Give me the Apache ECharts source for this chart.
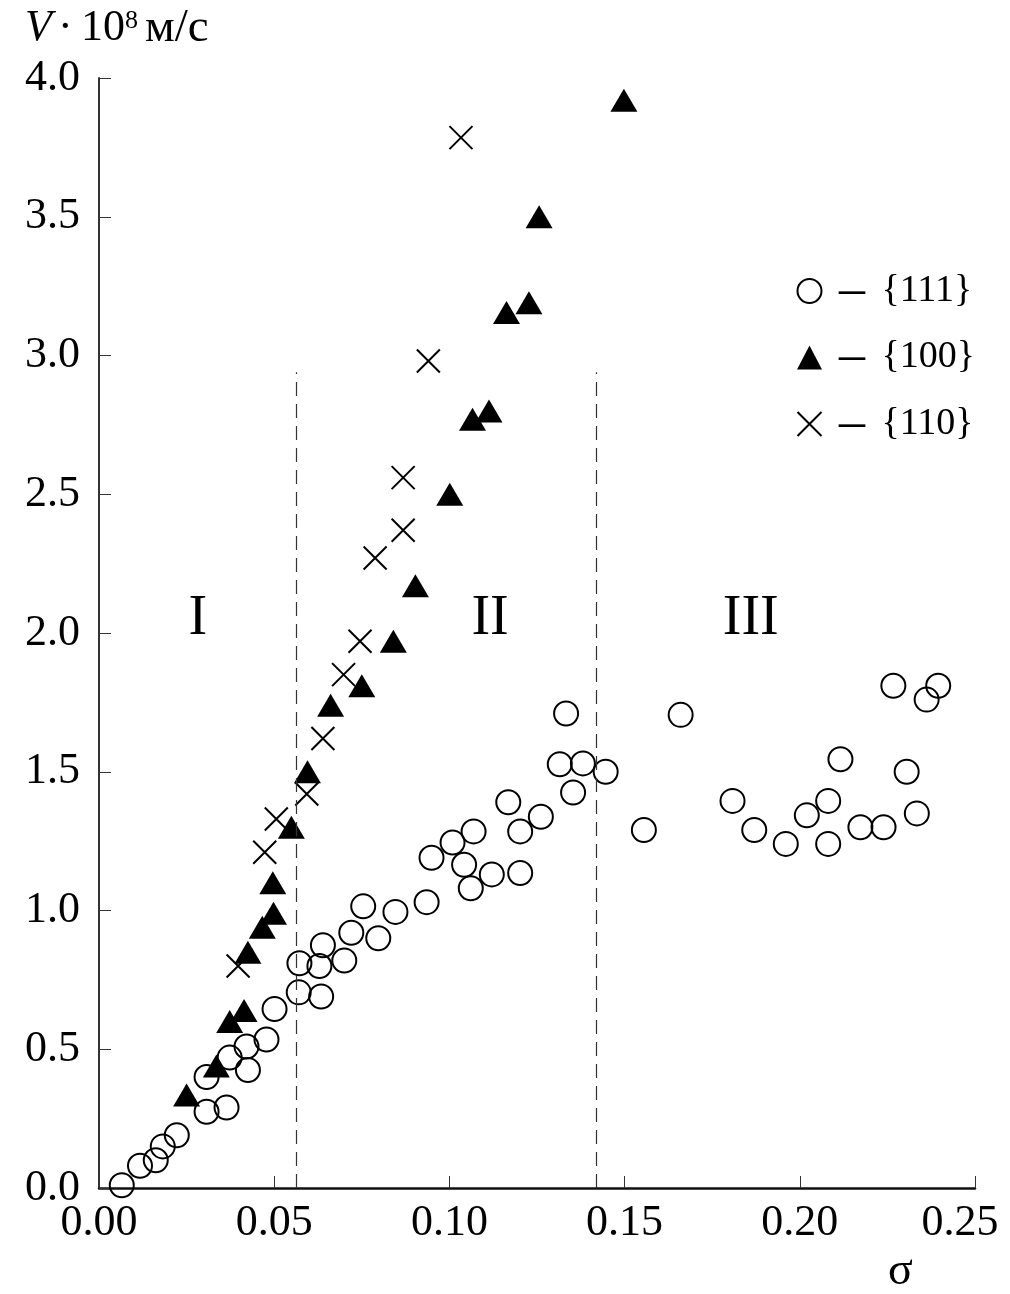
<!DOCTYPE html>
<html>
<head>
<meta charset="utf-8">
<script src="https://cdn.jsdelivr.net/npm/echarts@6/dist/echarts.min.js"></script>
<style>
html,body{margin:0;padding:0;background:#fff;overflow:hidden;}
#c{width:1010px;height:1294px;}
</style>
</head>
<body>
<div id="c"></div>
<script>
// ---- data ----
const sigma111 = [0.0065,0.0117,0.0162,0.0182,0.0222,0.0307,0.0307,0.0364,0.0373,0.0421,0.0425,0.0478,0.0501,0.0570,0.0572,0.0629,0.0634,0.0639,0.0700,0.0720,0.0754,0.0797,0.0846,0.0935,0.0949,0.1009,0.1042,0.1069,0.1061,0.1121,0.1168,0.1202,0.1202,0.1261,0.1315,0.1333,0.1353,0.1381,0.1446,0.1555,0.1660,0.1808,0.1870,0.1960,0.2020,0.2081,0.2081,0.2116,0.2173,0.2239,0.2267,0.2305,0.2334,0.2362,0.2395];
const v111     = [0.01,0.08,0.10,0.15,0.19,0.40,0.275,0.29,0.47,0.51,0.425,0.535,0.645,0.705,0.81,0.80,0.69,0.875,0.82,0.92,1.015,0.90,0.995,1.03,1.19,1.245,1.165,1.285,1.08,1.13,1.39,1.285,1.135,1.338,1.527,1.71,1.425,1.53,1.50,1.29,1.705,1.395,1.29,1.24,1.343,1.395,1.24,1.545,1.30,1.30,1.81,1.50,1.35,1.76,1.81];

const sigma100 = [0.0250,0.0335,0.0373,0.0414,0.0425,0.0466,0.0498,0.0496,0.0549,0.0595,0.0661,0.0750,0.0840,0.0903,0.1001,0.1066,0.1113,0.1163,0.1227,0.1256,0.1498];
const v100     = [0.335,0.44,0.60,0.64,0.85,0.94,0.99,1.10,1.30,1.50,1.74,1.81,1.97,2.17,2.50,2.77,2.80,3.155,3.19,3.50,3.92];

const sigma110 = [0.0397,0.0473,0.0506,0.0593,0.0639,0.0698,0.0745,0.0788,0.0868,0.0868,0.0940,0.1033];
const v110     = [0.80,1.21,1.33,1.42,1.62,1.85,1.97,2.27,2.37,2.56,2.98,3.785];

const boundarySigma = [0.0563, 0.1418];
const boundaryTop = 2.94;

const regionNames = ['I','II','III'];
const regionSigma = [0.0282, 0.1116, 0.1860];
const regionV = [2.05, 2.05, 2.05];

const seriesNames = ['{111}','{100}','{110}'];
const xTicks = [0, 0.25, 0.05];
const yTicks = [0, 4, 0.5];

// ---- build ----
const zip = (a,b) => a.map((x,i)=>[x,b[i]]);
const FONT = 'Liberation Serif';
const chart = echarts.init(document.getElementById('c'), null, {renderer:'canvas'});

const option = {
  animation:false,
  backgroundColor:'#fff',
  grid:{left:99, right:35, top:78, bottom:106, containLabel:false, outerBoundsMode:'none'},
  xAxis:{
    type:'value', min:xTicks[0], max:xTicks[1], interval:xTicks[2],
    axisLine:{show:true, onZero:false, lineStyle:{color:'#111', width:2.5}},
    axisTick:{show:true, inside:true, length:12, lineStyle:{color:'#333', width:1}},
    axisLabel:{show:true, margin:13, color:'#000', fontFamily:FONT, fontSize:44,
      formatter:v=> Math.abs(v - xTicks[1]) < 1e-9 ? '{last|'+v.toFixed(2)+'}' : v.toFixed(2),
      rich:{last:{fontFamily:FONT, fontSize:44, color:'#000', padding:[0,30,0,0]}}},
    splitLine:{show:false}
  },
  yAxis:{
    type:'value', min:yTicks[0], max:yTicks[1], interval:yTicks[2],
    axisLine:{show:true, onZero:false, lineStyle:{color:'#333', width:2}},
    axisTick:{show:true, inside:true, length:12, lineStyle:{color:'#333', width:1}},
    axisLabel:{show:true, margin:19, color:'#000', fontFamily:FONT, fontSize:44, formatter:v=>v.toFixed(1)},
    splitLine:{show:false}
  },
  legend:{
    show:true, orient:'vertical', left:795, top:265, padding:0,
    itemWidth:25, itemHeight:24, itemGap:14.5,
    data:seriesNames,
    formatter:n=>'{d|–} '+n,
    selectedMode:false,
    textStyle:{fontFamily:FONT, fontSize:38, color:'#000', lineHeight:40, padding:[0,0,0,12],
      rich:{d:{fontFamily:FONT, fontSize:52, lineHeight:40, color:'#000', padding:[0,7,0,0]}}}
  },
  graphic:[
    {type:'text', left:25, top:6, style:{text:'V', font:'italic 44px "Liberation Serif"', fill:'#000'}},
    {type:'text', left:58, top:6, style:{text:'·', font:'44px "Liberation Serif"', fill:'#000'}},
    {type:'text', left:81, top:6, style:{text:'10', font:'44px "Liberation Serif"', fill:'#000'}},
    {type:'text', left:125, top:8, style:{text:'8', font:'26px "Liberation Serif"', fill:'#000'}},
    {type:'text', left:145, top:5, style:{text:'м/с', font:'47px "Liberation Serif"', fill:'#000'}},
    {type:'text', left:888, top:1249, style:{text:'σ', font:'46px "Liberation Serif"', fill:'#000'}}
  ],
  series:[
    {
      name:seriesNames[0], type:'scatter', data:zip(sigma111,v111),
      symbol:'circle', symbolSize:24, z:3,
      itemStyle:{color:'rgba(0,0,0,0)', borderColor:'#000', borderWidth:2, opacity:1},
      emphasis:{disabled:true},
      markLine:{
        silent:true, symbol:['none','none'], label:{show:false},
        lineStyle:{type:[14,8], color:'#333', width:1.2, opacity:1},
        data: boundarySigma.map(s=>[{coord:[s,0]},{coord:[s,boundaryTop]}])
      }
    },
    {
      name:seriesNames[1], type:'scatter', data:zip(sigma100,v100),
      symbol:'triangle', symbolSize:[27,23], z:4,
      itemStyle:{color:'#000', opacity:1},
      emphasis:{disabled:true}
    },
    {
      name:seriesNames[2], type:'scatter', data:zip(sigma110,v110),
      symbol:'path://M0,0L10,10M10,0L0,10', symbolSize:23, z:4,
      itemStyle:{color:'none', borderColor:'#000', borderWidth:2, opacity:1},
      emphasis:{disabled:true}
    },
    {
      name:'regions', type:'scatter', symbolSize:0, silent:true,
      itemStyle:{opacity:1},
      data: regionNames.map((n,i)=>({name:n, value:[regionSigma[i], regionV[i]]})),
      label:{show:true, position:'inside', formatter:p=>p.name, fontFamily:FONT, fontSize:56, color:'#000'}
    }
  ]
};
chart.setOption(option);
</script>
</body>
</html>
